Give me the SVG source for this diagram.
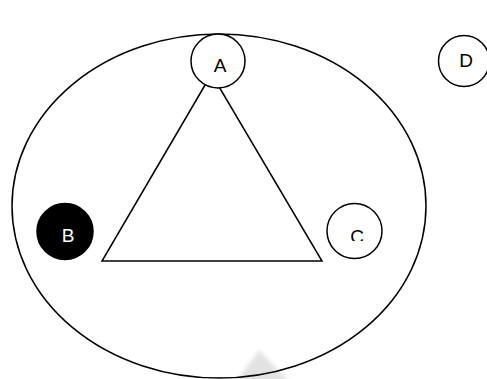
<svg xmlns="http://www.w3.org/2000/svg" width="487" height="379" viewBox="0 0 487 379">
<style>
.shape{fill:none;stroke:#000;stroke-width:1.5}
.node{fill:#fff;stroke:#000;stroke-width:1.5}
.lbl{font-family:"Liberation Sans",Arial,sans-serif;font-size:19px;text-anchor:middle;fill:#000}
</style>
<defs>
<filter id="blur" x="-50%" y="-50%" width="200%" height="200%"><feGaussianBlur stdDeviation="2"/></filter>
<clipPath id="clipC"><rect x="330" y="200" width="60" height="41"/></clipPath>
</defs>
<rect width="487" height="379" fill="#fff"/>
<polygon points="259,350 234,385 292,385" fill="#e2e2e2" filter="url(#blur)"/>
<g id="connectors">
<ellipse class="shape" cx="219" cy="206" rx="207" ry="172"/>
<polygon class="shape" points="211.5,74 102,261 322,261"/>
</g>
<g id="A"><circle class="node" cx="218" cy="61" r="27"/><text class="lbl" x="220" y="72">A</text></g>
<g id="D"><circle class="node" cx="464" cy="61" r="25.5"/><text class="lbl" x="466" y="67">D</text></g>
<g id="B"><circle cx="65" cy="231.5" r="28" fill="#000" stroke="#000" stroke-width="1.5"/><text class="lbl" x="68" y="242" style="fill:#fff">B</text></g>
<g id="C"><circle class="node" cx="354.5" cy="231" r="27.5"/><text class="lbl" x="357" y="242.5" clip-path="url(#clipC)">C</text></g>
</svg>
